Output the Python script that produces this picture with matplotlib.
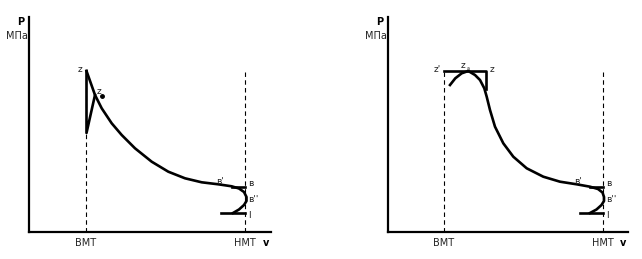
import matplotlib
matplotlib.use("Agg")
import matplotlib.pyplot as plt

# p-v diagrams: left = Otto (v = const heat supply), right = mixed cycle
# units are arbitrary (roughly px/10 from the axis origin)

# ---- left panel ----
L_vmax, L_pmax = 24.2, 21.5
L_bmt, L_hmt = 5.7, 21.6
L_dash_top = 16.2
L_comb_v = [5.75, 5.75, 6.6]          # z -> bottom -> z_a
L_comb_p = [16.1, 9.9, 13.7]
# expansion z -> b' -> b -> b'' -> a (one stroke)
L_exp_v = [5.75, 6.6, 7.27, 8.27, 9.27, 10.6, 12.27, 13.93, 15.6, 17.27, 18.93,
           20.27, 21.0, 21.5, 21.75, 21.75, 21.5, 21.0, 20.4]
L_exp_p = [16.1, 13.7, 12.37, 10.87, 9.7, 8.37, 7.03, 6.03, 5.37, 4.97, 4.77,
           4.57, 4.35, 4.0, 3.5, 3.1, 2.7, 2.25, 1.9]
L_b_line = ([20.3, 21.6], [4.5, 4.5])
L_a_line = ([19.2, 21.6], [1.9, 1.9])
L_za = (7.3, 13.6)

# ---- right panel ----
R_vmax, R_pmax = 24.0, 21.5
R_bmt, R_hmt = 5.6, 21.5
R_zz_v = [5.6, 9.8, 9.8]              # z' -> z -> down
R_zz_p = [16.1, 16.1, 14.3]
# arc through z_a, then expansion down to b and the exhaust bulge
R_exp_v = [6.2, 6.73, 7.37, 8.03, 8.7, 9.2, 9.63, 9.87, 10.2, 10.7, 11.53, 12.53,
           13.87, 15.53, 17.2, 18.87, 20.2, 21.0, 21.45, 21.6, 21.6, 21.35, 20.85, 20.2]
R_exp_p = [14.7, 15.37, 15.87, 16.1, 15.7, 15.2, 14.37, 13.53, 12.2, 10.53, 8.87, 7.53,
           6.37, 5.53, 5.03, 4.77, 4.53, 4.3, 3.95, 3.5, 3.1, 2.7, 2.25, 1.9]
R_b_line = ([20.2, 21.5], [4.5, 4.5])
R_a_line = ([19.2, 21.5], [1.9, 1.9])

W, H = 642, 259
fig = plt.figure(figsize=(W / 100, H / 100), dpi=100)
fig.patch.set_facecolor('white')

LW = 1.9
FS = 7
TXT = '#222222'


def make_axes(x0, y0, x1, y1, vmax, pmax):
    ax = fig.add_axes([x0 / W, (H - y0) / H, (x1 - x0) / W, (y0 - y1) / H])
    ax.set_xlim(0, vmax)
    ax.set_ylim(0, pmax)
    for s in ['top', 'right']:
        ax.spines[s].set_visible(False)
    for s in ['left', 'bottom']:
        ax.spines[s].set_linewidth(1.6)
    ax.set_xticks([])
    ax.set_yticks([])
    ax.patch.set_alpha(0)
    return ax


def axis_text(ax, bmt, hmt, vmax, pmax):
    ax.text(-0.8, pmax - 0.5, "P", fontsize=FS, fontweight='bold', ha='center', va='center')
    ax.text(-0.1, pmax - 1.9, "МПа", fontsize=FS, color=TXT, ha='right', va='center')
    ax.text(bmt, -1.1, "BMT", fontsize=FS, color=TXT, ha='center', va='center')
    ax.text(hmt, -1.1, "HMT", fontsize=FS, color=TXT, ha='center', va='center')
    ax.text(vmax - 0.5, -1.1, "v", fontsize=FS, fontweight='bold', ha='center', va='center')
    for t in ax.texts:
        t.set_clip_on(False)


def bottom_part(ax, hmt, b_line, a_line):
    ax.plot(*b_line, color='black', lw=LW)
    ax.plot(*a_line, color='black', lw=LW)
    ax.text(b_line[0][0] - 1.6, 5.1, "в'", fontsize=6.5, color=TXT, ha='left', va='center')
    ax.text(hmt + 0.35, 4.9, "в", fontsize=6.5, color=TXT, ha='left', va='center')
    ax.text(hmt + 0.3, 3.3, "в''", fontsize=6.5, color=TXT, ha='left', va='center')
    ax.text(hmt + 0.3, 1.6, "I", fontsize=6.5, color=TXT, ha='left', va='center')


dash = dict(color='black', lw=0.8, ls=(0, (4, 3)))

# left
ax1 = make_axes(29, 232, 271, 17, L_vmax, L_pmax)
ax1.plot([L_bmt, L_bmt], [0, L_dash_top], **dash)
ax1.plot([L_hmt, L_hmt], [0, L_dash_top], **dash)
ax1.plot(L_comb_v, L_comb_p, color='black', lw=LW)
ax1.plot(L_exp_v, L_exp_p, color='black', lw=LW, solid_joinstyle='round')
ax1.plot([L_za[0]], [L_za[1]], 'o', color='black', ms=2.5)
ax1.text(L_bmt - 0.4, 16.3, "z", fontsize=6.5, color=TXT, ha='right', va='center')
ax1.text(6.8, 14.0, "z", fontsize=6.5, color=TXT, ha='left', va='center')
bottom_part(ax1, L_hmt, L_b_line, L_a_line)
axis_text(ax1, L_bmt, L_hmt, L_vmax, L_pmax)

# right
ax2 = make_axes(388, 232, 628, 17, R_vmax, R_pmax)
ax2.plot([R_bmt, R_bmt], [0, 16.1], **dash)
ax2.plot([R_hmt, R_hmt], [0, 16.2], **dash)
ax2.plot(R_zz_v, R_zz_p, color='black', lw=LW)
ax2.plot(R_exp_v, R_exp_p, color='black', lw=LW, solid_joinstyle='round')
ax2.text(R_bmt - 0.3, 16.3, "z'", fontsize=6.5, color=TXT, ha='right', va='center')
ax2.text(7.3, 16.7, "z", fontsize=6.5, color=TXT, ha='left', va='center')
ax2.text(7.9, 16.4, "a", fontsize=3.5, color=TXT, ha='left', va='center')
ax2.text(10.2, 16.2, "z", fontsize=6.5, color=TXT, ha='left', va='center')
bottom_part(ax2, R_hmt, R_b_line, R_a_line)
axis_text(ax2, R_bmt, R_hmt, R_vmax, R_pmax)

fig.savefig("out.png", dpi=100, facecolor='white')
